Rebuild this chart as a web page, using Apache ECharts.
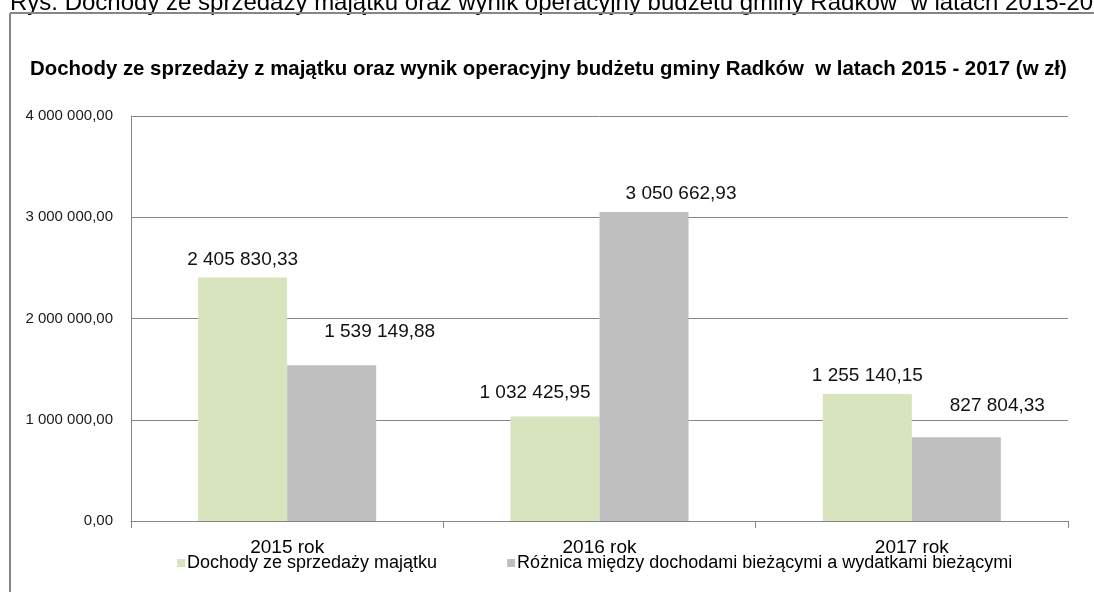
<!DOCTYPE html>
<html>
<head>
<meta charset="utf-8">
<script src="https://cdn.jsdelivr.net/npm/echarts@6/dist/echarts.min.js"></script>
<style>
html,body{margin:0;padding:0;background:#fff;}
#chart{width:1094px;height:592px;}
</style>
</head>
<body>
<div id="chart"></div>
<script>
const categories = ['2015 rok', '2016 rok', '2017 rok'];
const seriesNames = ['Dochody ze sprzedaży majątku', 'Różnica między dochodami bieżącymi a wydatkami bieżącymi'];
const dochody = [2405830.33, 1032425.95, 1255140.15];
const roznica = [1539149.88, 3050662.93, 827804.33];
const yTicks = { min: 0, max: 4000000, interval: 1000000 };
const chartTitle = 'Dochody ze sprzedaży z majątku oraz wynik operacyjny budżetu gminy Radków  w latach 2015 - 2017 (w zł)';
const figureCaption = 'Rys. Dochody ze sprzedaży majątku oraz wynik operacyjny budżetu gminy Radków  w latach 2015-2017';

function fmt(v) {
  const s = Number(v).toFixed(2);
  const parts = s.split('.');
  const i = parts[0].replace(/\B(?=(\d{3})+(?!\d))/g, ' ');
  return i + ',' + parts[1];
}

// label placement tweaks (layout only)
const greenLabelOffsets = [[0, -3], [-20, -9], [0, -4]];
const grayLabelOffsets = [[48, -19], [37, -4], [41, -17]];

const chart = echarts.init(document.getElementById('chart'));
const FONT = 'Liberation Sans, Arial, sans-serif';
const labelBase = { show: true, position: 'top', formatter: p => fmt(p.value), fontFamily: FONT, fontSize: 19, color: '#111' };

chart.setOption({
  animation: false,
  backgroundColor: '#fff',
  graphic: [
    { type: 'text', left: 10, top: -9, style: { text: figureCaption, font: '24px "Liberation Sans", Arial', fill: '#000' } },
    { type: 'line', shape: { x1: 10, y1: 13, x2: 1094, y2: 13 }, style: { stroke: '#868686', lineWidth: 2 } },
    { type: 'line', shape: { x1: 10, y1: 13, x2: 10, y2: 592 }, style: { stroke: '#868686', lineWidth: 2 } }
  ],
  title: {
    text: chartTitle,
    left: 25, top: 54,
    textStyle: { fontFamily: FONT, fontWeight: 'bold', fontSize: 20.4, color: '#000' }
  },
  grid: { left: 131, right: 26, top: 116, bottom: 71, containLabel: false },
  legend: {
    left: 172, top: 549,
    itemWidth: 8, itemHeight: 8, itemGap: 70,
    icon: 'rect',
    textStyle: { fontFamily: FONT, fontSize: 18, color: '#000', padding: [0, 0, 0, -3] },
    data: seriesNames
  },
  xAxis: {
    type: 'category',
    data: categories,
    axisLine: { lineStyle: { color: '#868686', width: 1 } },
    axisTick: { show: true, length: 7, lineStyle: { color: '#868686' } },
    axisLabel: { margin: 17, fontFamily: FONT, fontSize: 19, color: '#000' }
  },
  yAxis: {
    type: 'value',
    min: yTicks.min, max: yTicks.max, interval: yTicks.interval,
    axisLine: { show: true, lineStyle: { color: '#868686', width: 1 } },
    axisTick: { show: false },
    splitLine: { lineStyle: { color: '#868686', width: 1 } },
    axisLabel: { margin: 18, formatter: v => fmt(v), fontFamily: FONT, fontSize: 15, color: '#1a1a1a' }
  },
  series: [
    {
      name: seriesNames[0], type: 'bar',
      barGap: '0%', barCategoryGap: '43%',
      itemStyle: { color: '#D7E4BD' },
      label: labelBase,
      data: dochody.map((v, i) => ({ value: v, label: { offset: greenLabelOffsets[i] } }))
    },
    {
      name: seriesNames[1], type: 'bar',
      barGap: '0%', barCategoryGap: '43%',
      itemStyle: { color: '#BFBFBF' },
      label: labelBase,
      data: roznica.map((v, i) => ({ value: v, label: { offset: grayLabelOffsets[i] } }))
    }
  ]
});
</script>
</body>
</html>
